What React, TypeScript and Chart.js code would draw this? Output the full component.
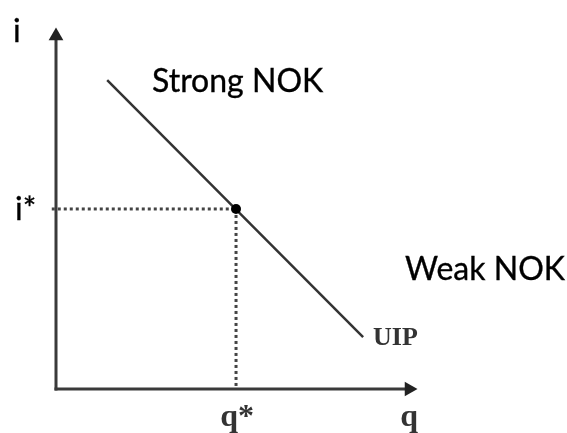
import React, { useEffect, useRef } from "react";
import { Chart, registerables } from "chart.js";

Chart.register(...registerables);

// Conceptual diagram in abstract data units: axes origin at (0, 0)
const qAxis = [0, 10]; // horizontal axis extent (q)
const iAxis = [0, 10]; // vertical axis extent (i)
const uipQ = [1.45, 8.7]; // UIP line, q values
const uipI = [8.75, 1.47]; // UIP line, i values
const qStar = 5.1; // equilibrium exchange rate
const iStar = 5.1; // equilibrium interest rate
const guideFrom = -0.12; // where the i* guide begins (just left of the axis)

// Text annotations (text, q, i, font kind)
const noteTexts = ["i", "i*", "Strong NOK", "Weak NOK", "UIP", "q*", "q"];
const noteQ = [-1.22, -1.16, 2.72, 9.89, 8.98, 4.65, 9.75];
const noteI = [9.83, 4.79, 8.41, 3.09, 1.25, -1.04, -1.04];
const noteKind = ["sans", "sans", "sans", "sans", "serifUIP", "serif", "serif"];

const fonts: Record<string, string> = {
  sans: "32px Lato",
  serifUIP: "bold 26px 'Liberation Serif'",
  serif: "bold 32px 'Liberation Serif'",
};

const notesPlugin = {
  id: "notes",
  afterDatasetsDraw(chart: any) {
    const { ctx, scales } = chart;
    ctx.save();
    ctx.strokeStyle = "#000";
    ctx.textAlign = "left";
    ctx.textBaseline = "alphabetic";
    noteTexts.forEach((t, k) => {
      const kind = noteKind[k];
      ctx.font = fonts[kind];
      const px = scales.x.getPixelForValue(noteQ[k]);
      const py = scales.y.getPixelForValue(noteI[k]);
      if (kind === "sans") {
        ctx.fillStyle = "#000";
        ctx.lineWidth = 0.35;
        ctx.fillText(t, px, py);
        ctx.strokeText(t, px, py);
      } else {
        ctx.fillStyle = "#333";
        ctx.fillText(t, px, py);
      }
    });
    ctx.restore();
  },
};

export default function App() {
  const ref = useRef<HTMLCanvasElement | null>(null);
  useEffect(() => {
    if (!ref.current) return;
    const chart = new Chart(ref.current, {
      type: "scatter",
      data: {
        datasets: [
          {
            label: "equilibrium",
            data: [{ x: qStar, y: iStar }],
            pointRadius: 5,
            pointBackgroundColor: "#000",
            pointBorderWidth: 0,
            showLine: false,
            clip: false,
          } as any,
          {
            label: "UIP",
            data: uipQ.map((q, k) => ({ x: q, y: uipI[k] })),
            showLine: true,
            borderColor: "#333",
            borderWidth: 2.5,
            pointRadius: 0,
            clip: false,
          },
          {
            label: "i* guide",
            data: [
              { x: guideFrom, y: iStar },
              { x: qStar, y: iStar },
            ],
            showLine: true,
            borderColor: "#444",
            borderWidth: 3,
            borderDash: [3, 3],
            pointRadius: 0,
            clip: false,
          },
          {
            label: "q* guide",
            data: [
              { x: qStar, y: iStar },
              { x: qStar, y: 0 },
            ],
            showLine: true,
            borderColor: "#444",
            borderWidth: 3,
            borderDash: [3, 3],
            pointRadius: 0,
            clip: false,
          },
          {
            label: "q axis",
            data: qAxis.map((q) => ({ x: q, y: 0 })),
            showLine: true,
            borderColor: "#3a3a3a",
            borderWidth: 3,
            borderCapStyle: "square",
            pointRadius: [0, 8.5],
            pointStyle: "triangle",
            rotation: [0, 90],
            pointBackgroundColor: "#222",
            pointBorderWidth: 0,
            clip: false,
          } as any,
          {
            label: "i axis",
            data: iAxis.map((i) => ({ x: 0, y: i })),
            showLine: true,
            borderColor: "#3a3a3a",
            borderWidth: 3,
            borderCapStyle: "square",
            pointRadius: [0, 8.5],
            pointStyle: "triangle",
            rotation: [0, 0],
            pointBackgroundColor: "#222",
            pointBorderWidth: 0,
            clip: false,
          } as any,
        ],
      },
      options: {
        responsive: false,
        animation: false,
        layout: { padding: { left: 56, right: 158, top: 36, bottom: 44 } },
        scales: {
          x: { type: "linear", min: 0, max: 10, display: false },
          y: { type: "linear", min: 0, max: 10, display: false },
        },
        plugins: { legend: { display: false }, tooltip: { enabled: false } },
        events: [],
      },
      plugins: [notesPlugin],
    });
    return () => chart.destroy();
  }, []);
  return (
    <div style={{ position: "absolute", left: 0, top: 0, width: 567, height: 433, background: "#fff" }}>
      <canvas ref={ref} width={567} height={433} style={{ display: "block" }} />
    </div>
  );
}
